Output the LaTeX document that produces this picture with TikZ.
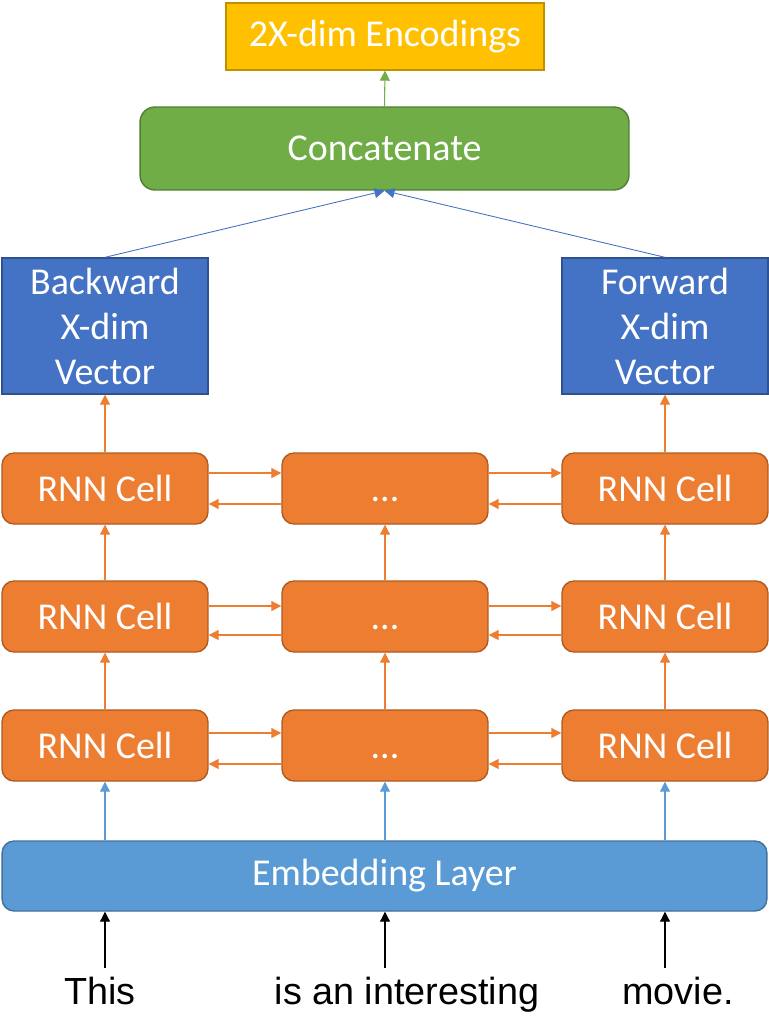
\documentclass[tikz,border=0pt]{standalone}
\usepackage{fontspec}
\setmainfont{Carlito}
\newfontfamily\wordfont{Liberation Sans}
\usepackage{xcolor}
\usetikzlibrary{arrows.meta}
\definecolor{encfill}{HTML}{FFC000}
\definecolor{encedge}{HTML}{BF9000}
\definecolor{catfill}{HTML}{70AD47}
\definecolor{catedge}{HTML}{507E32}
\definecolor{vecfill}{HTML}{4472C4}
\definecolor{vecedge}{HTML}{2F528F}
\definecolor{rnnfill}{HTML}{ED7D31}
\definecolor{rnnedge}{HTML}{AE5A21}
\definecolor{embfill}{HTML}{5B9BD5}
\definecolor{embedge}{HTML}{41719C}

\begin{document}
\begin{tikzpicture}[x=0.02cm, y=-0.02cm,
  box/.style={draw, line width=0.8pt, text=white, inner sep=0pt, align=center,
    font=\fontsize{21.6}{25.6}\selectfont},
  cell/.style={box, fill=rnnfill, draw=rnnedge, rounded corners=0.24cm,
    minimum width=4.12cm, minimum height=1.42cm},
  link/.style={-{Triangle[length=0.2cm,width=0.2cm]}, line width=0.6pt}]
  \useasboundingbox (0,0) rectangle (768,1035);
  % Output side
  \node[box, fill=encfill, draw=encedge, minimum width=6.36cm, minimum height=1.34cm]
    (enc) at (385,36.5) {2X-dim Encodings};
  \node[box, fill=catfill, draw=catedge, rounded corners=0.3cm,
    minimum width=9.78cm, minimum height=1.66cm] (cat) at (384.5,148.5) {Concatenate};
  \node[box, fill=vecfill, draw=vecedge, minimum width=4.12cm, minimum height=2.72cm]
    (back) at (105,326) {Backward\\X-dim\\Vector};
  \node[box, fill=vecfill, draw=vecedge, minimum width=4.12cm, minimum height=2.72cm]
    (fwd) at (665,326) {Forward\\X-dim\\Vector};
  % RNN grid (rows top to bottom)
  \foreach \r/\y in {1/488.5, 2/616.5, 3/745.5} {
    \node[cell] (c\r1) at (105,\y) {RNN Cell};
    \node[cell] (c\r2) at (385,\y) {\vphantom{RNN Cell}...};
    \node[cell] (c\r3) at (665,\y) {RNN Cell};
  }
  \node[box, fill=embfill, draw=embedge, rounded corners=0.24cm,
    minimum width=15.3cm, minimum height=1.4cm] (emb) at (384.5,876) {Embedding Layer};
  % Words
  \node[font=\wordfont\fontsize{21.5}{25}\selectfont, anchor=base, inner sep=0pt]
    (w1) at (100,1004) {This};
  \node[font=\wordfont\fontsize{21.5}{25}\selectfont, anchor=base, inner sep=0pt]
    (w2) at (407,1004) {is an interesting};
  \node[font=\wordfont\fontsize{21.5}{25}\selectfont, anchor=base, inner sep=0pt]
    (w3) at (678,1004) {movie.};
  \foreach \c/\x in {1/105, 2/385, 3/665} {
    \coordinate (t\c) at (\x,968);
    \draw[link, black] (t\c) -- (t\c |- emb.south);
    \draw[link, embfill] (c3\c.south |- emb.north) -- (c3\c.south);
    \draw[link, rnnfill] (c3\c.north) -- (c2\c.south);
    \draw[link, rnnfill] (c2\c.north) -- (c1\c.south);
  }
  % Forward / backward links
  \foreach \r/\up/\dn in {1/0.31/0.31, 2/0.21/0.37, 3/0.25/0.37} {
    \draw[link, rnnfill] ([yshift=\up cm]c\r1.east) -- ([yshift=\up cm]c\r2.west);
    \draw[link, rnnfill] ([yshift=\up cm]c\r2.east) -- ([yshift=\up cm]c\r3.west);
    \draw[link, rnnfill] ([yshift=-\dn cm]c\r2.west) -- ([yshift=-\dn cm]c\r1.east);
    \draw[link, rnnfill] ([yshift=-\dn cm]c\r3.west) -- ([yshift=-\dn cm]c\r2.east);
  }
  \draw[link, rnnfill] (c11.north) -- (back.south);
  \draw[link, rnnfill] (c13.north) -- (fwd.south);
  \draw[link, vecfill, line width=0.5pt] (back.north) -- (cat.south);
  \draw[link, vecfill, line width=0.5pt] (fwd.north) -- (cat.south);
  \draw[link, catfill] (cat.north) -- (enc.south);
\end{tikzpicture}
\end{document}
